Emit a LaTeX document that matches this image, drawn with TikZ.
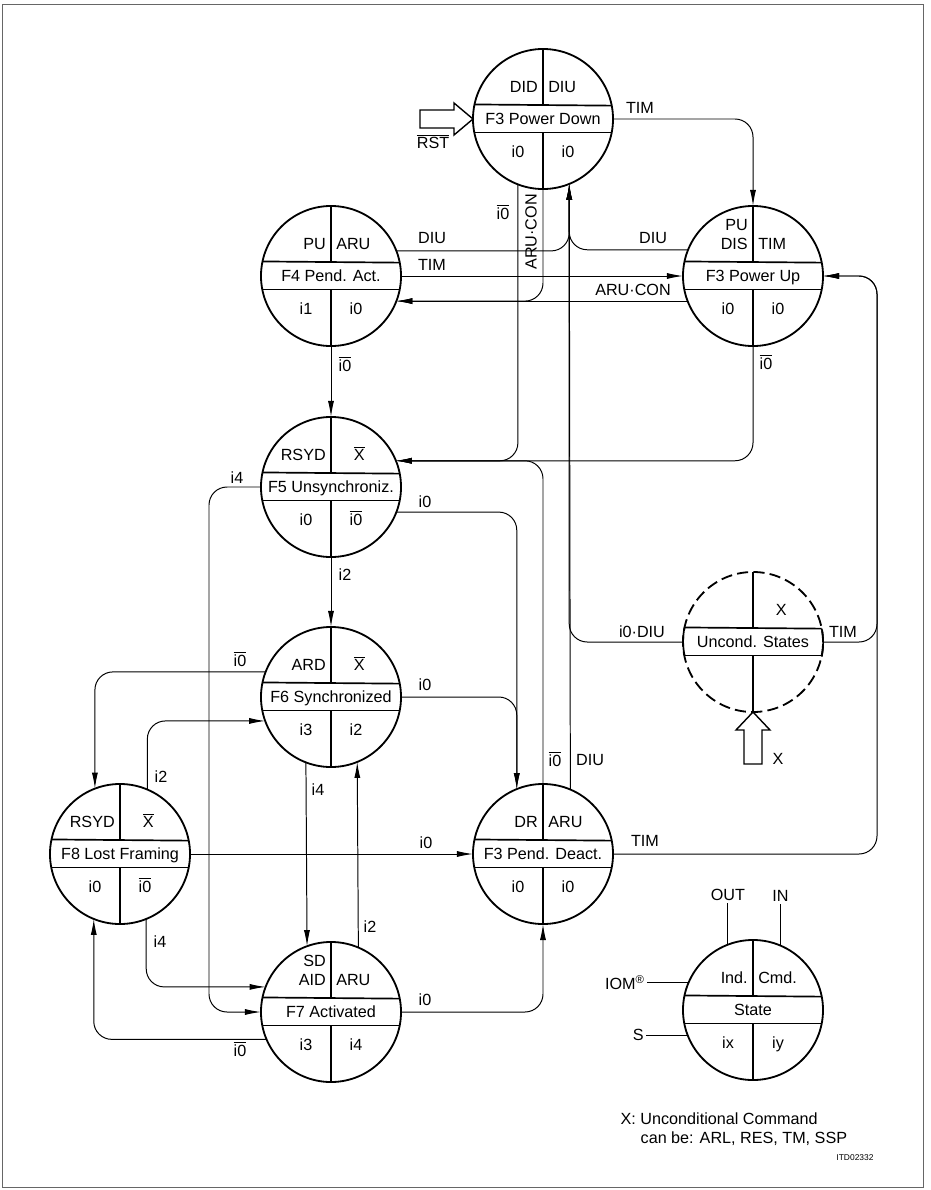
\documentclass[tikz,border=0pt]{standalone}
\usepackage{fontspec}
\setmainfont{Liberation Sans}
\usetikzlibrary{arrows.meta}

\newcommand{\ovl}[1]{$\overline{\hbox{#1}}$}
\newcommand{\padx}{\hspace*{0.44cm}}
% state circle: options, name, position, upper left, upper right, band, lower left, lower right
\newcommand{\fsmstate}[8]{%
  \node[fsm,#1] (#2) at (#3) {};
  \draw[part] (#2.north) -- ([yshift=0.35cm]#2.center);
  \draw[part] ([yshift=-0.35cm]#2.center) -- (#2.south);
  \draw[part] (#2.168.46) -- (#2.11.54);
  \draw[part] (#2.191.54) -- (#2.-11.54);
  \node[txt,anchor=south east,align=right] (#2-ul) at ([xshift=-0.125cm,yshift=0.65cm]#2.center) {#4};
  \node[txt,anchor=south west] (#2-ur) at ([xshift=0.125cm,yshift=0.65cm]#2.center) {#5};
  \node[txt,anchor=base] (#2-band) at ([yshift=-0.145cm]#2.center) {#6};
  \node[txt,anchor=base] (#2-ll) at ([xshift=-0.625cm,yshift=-0.95cm]#2.center) {#7};
  \node[txt,anchor=base] (#2-lr) at ([xshift=0.625cm,yshift=-0.95cm]#2.center) {#8};
}

\begin{document}
\begin{tikzpicture}[x=0.025cm,y=-0.025cm,>={Latex[length=4mm,width=1.5mm]},
  font=\fontsize{11.5}{13.5}\selectfont,
  fsm/.style={circle,draw,line width=1.3pt,minimum size=3.5cm,inner sep=0pt,outer sep=0pt},
  part/.style={line width=1.2pt},
  txt/.style={inner sep=0pt},
  lbl/.style={inner sep=1pt},
  flow/.style={->,line width=0.7pt,rounded corners=4.5mm},
  blockarrow/.style={line width=1pt,line join=miter}]
  \useasboundingbox (0,0) rectangle (930,1190);
  \draw[black!60,line width=0.5pt] (2,4) rectangle (923,1187);

  % States
  \fsmstate{}{f3pd}{543,119}{DID}{DIU}{F3 Power Down}{i0}{i0}
  \fsmstate{}{f4}{331,276}{PU}{ARU}{F4 Pend. Act.}{i1}{i0}
  \fsmstate{}{f3pu}{753,276}{PU\\DIS}{TIM}{F3 Power Up}{i0}{i0}
  \fsmstate{}{f5}{331,487}{RSYD}{\padx\ovl{X}}{F5 Unsynchroniz.}{i0}{\ovl{i0}}
  \fsmstate{}{f6}{331,697}{ARD}{\padx\ovl{X}}{F6 Synchronized}{i3}{i2}
  \fsmstate{}{f8}{120,854}{RSYD}{\padx\ovl{X}}{F8 Lost Framing}{i0}{\ovl{i0}}
  \fsmstate{}{f7}{331,1012}{SD\\AID}{ARU}{F7 Activated}{i3}{i4}
  \fsmstate{}{f3dd}{543,854}{DR}{ARU}{F3 Pend. Deact.}{i0}{i0}
  \fsmstate{dashed,dash pattern=on 2.8mm off 1.3mm}{unc}{753,642}{}{\padx X}{Uncond. States}{}{}
  \draw[part] (unc.11.54) arc[start angle=11.54,end angle=-11.54,radius=1.75cm];
  \draw[part] (unc.168.46) arc[start angle=168.46,end angle=191.54,radius=1.75cm];

  % Bus corners
  \coordinate (rbus) at (877,460);
  \coordinate (lbus) at (209,750);

  % Inputs
  \draw[blockarrow] (f3pd.west) -- ++(-19,-16) -- ++(0,7) -- ++(-34,0) -- ++(0,18)
    -- ++(34,0) -- ++(0,7) -- cycle;
  \node[lbl] (l-rst) at (433,142) {\ovl{RST}};
  \draw[blockarrow] (unc.south) -- ++(17,18) -- ++(-8,0) -- ++(0,34) -- ++(-18,0)
    -- ++(0,-34) -- ++(-8,0) -- cycle;
  \node[lbl] (l-x) at (778,759) {X};

  % Transitions
  \draw[flow] (f3pd.east) -| (f3pu.north);
  \draw[flow] (f4.east) -- (f3pu.west);
  \draw[flow] (f4.21.8) -| (f3pd.292.7);
  \draw[flow] (f3pu.158.2) -| (f3pd.292.7);
  \draw[flow] (f3pu.201.8) -- (f4.-21.8);
  \draw[flow] (f3pd.south) |- (f4.-21.8);
  \draw[flow] (f3pd.249.1) |- (f5.22.7);
  \draw[flow] (f3pu.south) |- (f5.22.7);
  \draw[flow] (f3dd.north) |- (f5.22.7);
  \draw[flow] (f3dd.67.3) -- (f3pd.292.7);
  \draw[flow] (unc.west) -| (f3pd.292.7);
  \draw[flow] (unc.east) -| (rbus) |- (f3pu.east);
  \draw[flow] (f3dd.east) -| (rbus) |- (f3pu.east);
  \draw[flow] (f4.south) -- (f5.north);
  \draw[flow] (f5.south) -- (f6.north);
  \draw[flow] (f5.west) -| (lbus) |- (f7.west);
  \draw[flow] (f5.-21.8) -| (f3dd.112.7);
  \draw[flow] (f6.east) -| (f3dd.112.7);
  \draw[flow] (f6.159.1) -| (f8.111.8);
  \draw[flow] (f8.67.3) |- (f6.200.9);
  \draw[flow] (f6.249.1) -- (f7.110.9);
  \draw[flow] (f7.67.3) -- (f6.292.7);
  \draw[flow] (f8.east) -- (f3dd.west);
  \draw[flow] (f8.292.7) |- (f7.159.1);
  \draw[flow] (f7.203.6) -| (f8.248.2);
  \draw[flow] (f7.east) -| (f3dd.south);

  % Transition labels
  \node[lbl] (l-pd-tim) at (640,108) {TIM};
  \node[lbl,rotate=90] (l-pd-arucon) at (531,232) {ARU·CON};
  \node[lbl] (l-pd-i0) at (503,212) {\ovl{i0}};
  \node[lbl] (l-f4-diu) at (432,238) {DIU};
  \node[lbl] (l-f4-tim) at (432,265) {TIM};
  \node[lbl] (l-pu-diu) at (653,238) {DIU};
  \node[lbl] (l-pu-arucon) at (633,290) {ARU·CON};
  \node[lbl] (l-f4-i0) at (345,364) {\ovl{i0}};
  \node[lbl] (l-pu-i0) at (766,362) {\ovl{i0}};
  \node[lbl] (l-f5-i4) at (237,478) {i4};
  \node[lbl] (l-f5-i0) at (425,502) {i0};
  \node[lbl] (l-f5-i2) at (345,575) {i2};
  \node[lbl] (l-f6-i0b) at (240,659) {\ovl{i0}};
  \node[lbl] (l-f6-i0) at (425,685) {i0};
  \node[lbl] (l-f8-i2) at (161,777) {i2};
  \node[lbl] (l-f6-i4) at (318,790) {i4};
  \node[lbl] (l-unc-i0diu) at (642,632) {i0·DIU};
  \node[lbl] (l-unc-tim) at (843,632) {TIM};
  \node[lbl] (l-dd-i0) at (555,759) {\ovl{i0}};
  \node[lbl] (l-dd-diu) at (590,760) {DIU};
  \node[lbl] (l-f8-i0) at (426,843) {i0};
  \node[lbl] (l-dd-tim) at (645,841) {TIM};
  \node[lbl] (l-f7-i2) at (370,927) {i2};
  \node[lbl] (l-f8-i4) at (160,942) {i4};
  \node[lbl] (l-f7-i0) at (425,1000) {i0};
  \node[lbl] (l-f7-i0b) at (240,1049) {\ovl{i0}};

  % Legend
  \fsmstate{}{leg}{753,1010}{Ind.}{Cmd.}{State}{ix}{iy}
  \draw[line width=0.7pt] (leg.111.8) -- ++(0,-42) node[above,lbl] (out) {OUT};
  \draw[line width=0.7pt] (leg.67.3) -- ++(0,-42) node[above,lbl] (in) {IN};
  \draw[line width=0.7pt] (leg.157.3) -- ++(-42,0) node[left,lbl] (iom) {IOM\textsuperscript{®}};
  \draw[line width=0.7pt] (leg.201.8) -- ++(-42,0) node[left,lbl] (s) {S};
  \node[lbl,anchor=north west,align=left] (note) at (619,1111)
    {X: Unconditional Command\\\hspace*{5mm}can be: ARL, RES, TM, SSP};
  \node[lbl,font=\fontsize{6}{7}\selectfont] (itd) at (855,1158) {ITD02332};
\end{tikzpicture}
\end{document}
